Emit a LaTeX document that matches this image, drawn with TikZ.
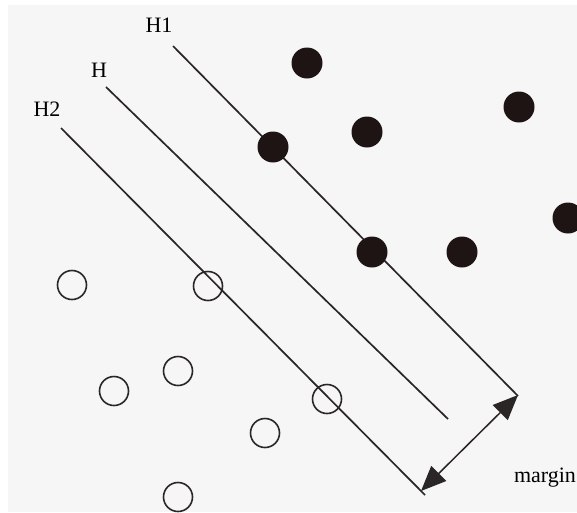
\documentclass[tikz,border=0pt]{standalone}
\usepackage{fontspec}
\setmainfont{Liberation Serif}
\usetikzlibrary{arrows.meta}
\definecolor{bgpanel}{HTML}{F6F6F6}
\definecolor{ink}{HTML}{2A2626}
\definecolor{dotfill}{HTML}{1E1414}
\tikzset{
  hyper/.style={draw=ink, line width=1.7pt},
  posdot/.style={circle, fill=dotfill, draw=none, minimum size=31pt, inner sep=0pt},
  negdot/.style={circle, draw=ink, line width=1.6pt, fill=none, minimum size=29pt, inner sep=0pt},
  lbl/.style={font=\fontsize{22}{26}\selectfont, text=black, inner sep=0pt},
  gap/.style={draw=ink, line width=1.5pt, {Triangle[length=25pt,width=21pt]}-{Triangle[length=25pt,width=21pt]}}
}
\begin{document}
\begin{tikzpicture}[x=1pt, y=-1pt]
  \useasboundingbox (0,0) rectangle (577,512);
  \fill[white] (0,0) rectangle (577,512);
  \fill[bgpanel] (8,5) rectangle (577,512);

  % separating hyperplane H and the two margin planes
  \coordinate (h1a) at (173,46);  \coordinate (h1b) at (518,396);
  \coordinate (ha)  at (106,87);  \coordinate (hb)  at (448,419);
  \coordinate (h2a) at (61,128);  \coordinate (h2b) at (425,495);
  \draw[hyper] (h1a) -- (h1b);
  \draw[hyper] (ha) -- (hb);
  \draw[hyper] (h2a) -- (h2b);

  \node[lbl] (lh1) at (159,25) {H1};
  \node[lbl] (lh)  at (99,70)  {H};
  \node[lbl] (lh2) at (47,109) {H2};

  % positive class
  \node[posdot] (p1) at (307,63)  {};
  \node[posdot] (p2) at (519,107) {};
  \node[posdot] (p3) at (367,132) {};
  \node[posdot] (p4) at (273,147) {};
  \node[posdot] (p5) at (568,218) {};
  \node[posdot] (p6) at (372,252) {};
  \node[posdot] (p7) at (462,252) {};

  % negative class
  \node[negdot] (n1) at (72,285)  {};
  \node[negdot] (n2) at (208,286) {};
  \node[negdot] (n3) at (178,371) {};
  \node[negdot] (n4) at (114,391) {};
  \node[negdot] (n5) at (327,399) {};
  \node[negdot] (n6) at (265,433) {};
  \node[negdot] (n7) at (178,497) {};

  % margin width
  \coordinate (mtop) at (518,395);
  \coordinate (mbot) at (421,491);
  \draw[gap] (mbot) -- (mtop);
  \node[lbl] (mlbl) at (545,478) {margin};
\end{tikzpicture}
\end{document}
